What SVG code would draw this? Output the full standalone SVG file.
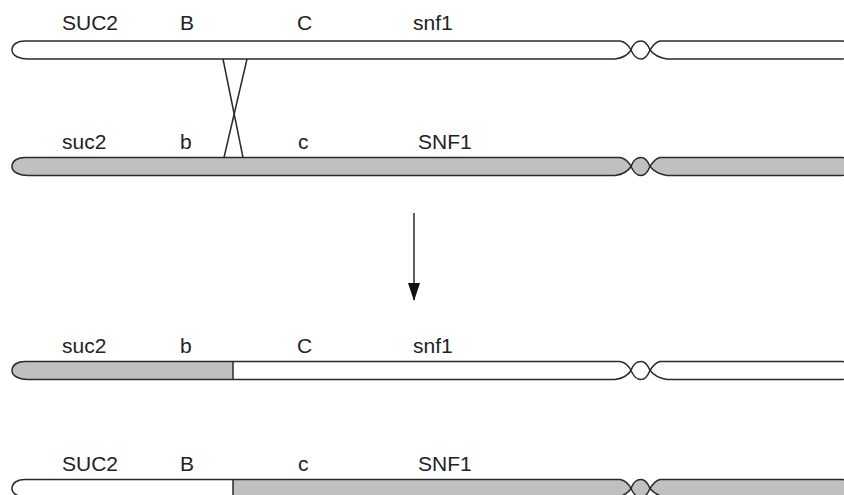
<svg xmlns="http://www.w3.org/2000/svg" xmlns:xlink="http://www.w3.org/1999/xlink" width="844" height="495" viewBox="0 0 844 495">
  <style>
    .lbl { font-family: "Liberation Sans", Arial, sans-serif; font-size: 21px; fill: #222; }
    .chr { stroke: #2a2a2a; stroke-width: 1.5; stroke-linejoin: round; }
    .line { stroke: #2a2a2a; stroke-width: 1.5; fill: none; }
  </style>
  <defs>
    <!-- chromosome outline: left arm, centromere bulb, right arm (local y 0..18) -->
    <g id="chromosome">
      <path d="M 25 0 L 620 0 C 626 1 629 5 631 9 C 628 14 622 17 615 18 L 28 18 C 20 18 12 15 12 9 C 12 3 18 0 25 0 Z"/>
      <path d="M 631 9 C 633 3 637 0 641 0 C 645 0 648 4 650 9 C 648 14 645 18 641 18 C 637 18 633 14 631 9 Z"/>
      <path d="M 650 9 C 653 4 656 1 660 0 L 842 0 C 848 0 852 4 852 9 C 852 14 848 18 842 18 L 667 18 C 660 17 654 14 650 9 Z"/>
    </g>
    <!-- recombinant fills: hard colour switch at the crossover point x=233 -->
    <linearGradient id="greyThenWhite" gradientUnits="userSpaceOnUse" x1="0" y1="0" x2="844" y2="0">
      <stop offset="0.2761" stop-color="#c0c0c0"/>
      <stop offset="0.2761" stop-color="#ffffff"/>
    </linearGradient>
    <linearGradient id="whiteThenGrey" gradientUnits="userSpaceOnUse" x1="0" y1="0" x2="844" y2="0">
      <stop offset="0.2761" stop-color="#ffffff"/>
      <stop offset="0.2761" stop-color="#c0c0c0"/>
    </linearGradient>
    <marker id="arrowhead" viewBox="0 0 18 12" refX="17" refY="6" markerWidth="18" markerHeight="12" markerUnits="userSpaceOnUse" orient="auto">
      <path d="M 0 0 L 18 6 L 0 12 Z" fill="#111"/>
    </marker>
  </defs>

  <!-- parental chromosome 1 (white) -->
  <g id="parent1">
    <use xlink:href="#chromosome" href="#chromosome" class="chr" fill="#ffffff" transform="translate(0,41)"/>
    <text class="lbl" x="62" y="30">SUC2</text>
    <text class="lbl" x="180" y="30">B</text>
    <text class="lbl" x="297" y="30">C</text>
    <text class="lbl" x="413" y="30">snf1</text>
  </g>

  <!-- parental chromosome 2 (grey) -->
  <g id="parent2">
    <use xlink:href="#chromosome" href="#chromosome" class="chr" fill="#c0c0c0" transform="translate(0,157.5)"/>
    <text class="lbl" x="62" y="149">suc2</text>
    <text class="lbl" x="180" y="149">b</text>
    <text class="lbl" x="298" y="149">c</text>
    <text class="lbl" x="418" y="149">SNF1</text>
  </g>

  <!-- recombinant chromosome 3 -->
  <g id="recombinant1">
    <use xlink:href="#chromosome" href="#chromosome" class="chr" fill="url(#greyThenWhite)" transform="translate(0,361.5)"/>
    <line class="line" x1="233" y1="361.5" x2="233" y2="379.5"/>
    <text class="lbl" x="62" y="353">suc2</text>
    <text class="lbl" x="180" y="353">b</text>
    <text class="lbl" x="297" y="353">C</text>
    <text class="lbl" x="413" y="353">snf1</text>
  </g>

  <!-- recombinant chromosome 4 -->
  <g id="recombinant2">
    <use xlink:href="#chromosome" href="#chromosome" class="chr" fill="url(#whiteThenGrey)" transform="translate(0,479.5)"/>
    <line class="line" x1="233" y1="479.5" x2="233" y2="497.5"/>
    <text class="lbl" x="62" y="471">SUC2</text>
    <text class="lbl" x="180" y="471">B</text>
    <text class="lbl" x="298" y="471">c</text>
    <text class="lbl" x="418" y="471">SNF1</text>
  </g>

  <!-- crossover and result arrow -->
  <g id="connectors">
    <line class="line" x1="223" y1="59" x2="243" y2="157.5"/>
    <line class="line" x1="247" y1="59" x2="224" y2="157.5"/>
    <line class="line" x1="414" y1="213" x2="414" y2="300" marker-end="url(#arrowhead)"/>
  </g>
</svg>
